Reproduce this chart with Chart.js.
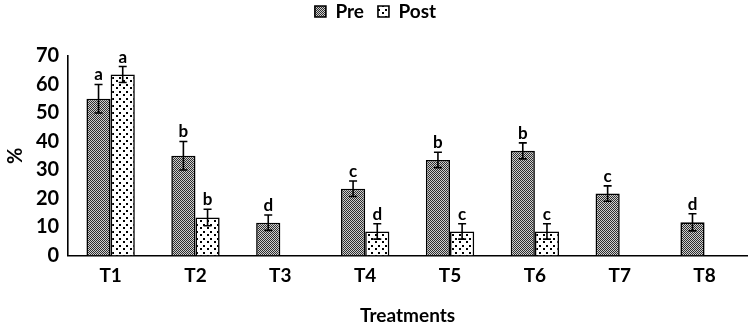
<!DOCTYPE html>
<html>
<head>
<meta charset="utf-8">
<script src="https://cdn.jsdelivr.net/npm/chart.js@4"></script>
<style>
  html, body { margin: 0; padding: 0; background: #fff; }
  .graphBox { width: 751px; height: 327px; }
</style>
</head>
<body>
<div class="graphBox"><canvas id="barChart"></canvas></div>
<script>
const treatments = ['T1', 'T2', 'T3', 'T4', 'T5', 'T6', 'T7', 'T8'];
const preValues = [55, 35, 11.5, 23.4, 33.5, 36.7, 21.7, 11.6];
const postValues = [63.5, 13.3, null, 8.4, 8.4, 8.4, null, null];
const preErrors = [5, 5, 2.7, 2.7, 2.7, 2.8, 2.7, 3];
const postErrors = [2.8, 2.9, null, 2.7, 2.7, 2.7, null, null];
const preLetters = ['a', 'b', 'd', 'c', 'b', 'b', 'c', 'd'];
const postLetters = ['a', 'b', '', 'd', 'c', 'c', '', ''];

const fontFamily = 'Lato, "Open Sans", sans-serif';

// fine grey dither for "Pre"
function prePattern() {
    var c = document.createElement('canvas');
    c.width = 2; c.height = 2;
    var g = c.getContext('2d');
    g.fillStyle = '#cfcfcf';
    g.fillRect(0, 0, 2, 2);
    g.fillStyle = '#2e2e2e';
    g.fillRect(0, 0, 1, 1);
    g.fillRect(1, 1, 1, 1);
    return g.createPattern(c, 'repeat');
}

// white with black dots for "Post"
function postPattern() {
    var c = document.createElement('canvas');
    c.width = 7; c.height = 7;
    var g = c.getContext('2d');
    g.fillStyle = '#ffffff';
    g.fillRect(0, 0, 7, 7);
    g.fillStyle = '#000000';
    g.fillRect(0, 0, 2, 2);
    g.fillRect(4, 3, 2, 2);
    return g.createPattern(c, 'repeat');
}

const errorBars = {
    id: 'errorBars',
    afterInit(chart) {
        // leave room between the legend and the plot, and lift the legend up
        var lg = chart.legend;
        var origFit = lg.fit;
        lg.fit = function () {
            origFit.call(this);
            this.height += 13;
        };
        var origDraw = lg.draw;
        lg.draw = function () {
            this.ctx.save();
            this.ctx.translate(0, -12);
            origDraw.apply(this, arguments);
            this.ctx.restore();
        };
    },
    afterDatasetsDraw(chart) {
        var ctx = chart.ctx;
        var y = chart.scales.y;
        var errs = [preErrors, postErrors];
        var letters = [preLetters, postLetters];
        chart.data.datasets.forEach((ds, di) => {
            var meta = chart.getDatasetMeta(di);
            meta.data.forEach((bar, i) => {
                var v = ds.data[i];
                if (v === null) return;
                var e = errs[di][i];
                var top = y.getPixelForValue(v + e);
                var bottom = y.getPixelForValue(v - e);
                ctx.save();
                ctx.strokeStyle = '#000';
                ctx.lineWidth = 1.6;
                ctx.beginPath();
                ctx.moveTo(bar.x, top);
                ctx.lineTo(bar.x, bottom);
                ctx.moveTo(bar.x - 4, top);
                ctx.lineTo(bar.x + 4, top);
                ctx.moveTo(bar.x - 4, bottom);
                ctx.lineTo(bar.x + 4, bottom);
                ctx.stroke();
                ctx.fillStyle = '#000';
                ctx.font = 'bold 17px ' + fontFamily;
                ctx.textAlign = 'center';
                ctx.textBaseline = 'bottom';
                ctx.fillText(letters[di][i], bar.x, top - 1);
                ctx.restore();
            });
        });
    }
};

var barCtx = document.getElementById('barChart').getContext('2d');
var barChart = new Chart(barCtx, {
    type: 'bar',
    data: {
        labels: treatments,
        datasets: [{
            label: 'Pre',
            data: preValues,
            backgroundColor: prePattern(),
            borderColor: '#000',
            borderWidth: 1.6
        }, {
            label: 'Post',
            data: postValues,
            backgroundColor: postPattern(),
            borderColor: '#000',
            borderWidth: 1.6
        }]
    },
    options: {
        responsive: true,
        maintainAspectRatio: false,
        animation: false,
        layout: { padding: { left: 4, right: 4, top: 0, bottom: 0 } },
        datasets: { bar: { categoryPercentage: 0.57, barPercentage: 1.0 } },
        plugins: {
            legend: {
                position: 'top',
                labels: {
                    boxWidth: 11,
                    boxHeight: 11,
                    color: '#000',
                    font: { family: fontFamily, size: 19, weight: 'bold' },
                    padding: 14
                }
            },
            tooltip: { enabled: false }
        },
        scales: {
            x: {
                grid: { display: false, drawTicks: false },
                border: { color: '#000', width: 1.6 },
                ticks: {
                    color: '#000',
                    padding: 9,
                    font: { family: fontFamily, size: 19, weight: 'bold' }
                },
                title: {
                    display: true,
                    text: 'Treatments',
                    color: '#000',
                    padding: { top: 8, bottom: 0 },
                    font: { family: fontFamily, size: 19, weight: 'bold' }
                }
            },
            y: {
                min: 0,
                max: 70,
                grid: { display: false, drawTicks: true, tickLength: 5, tickColor: '#000' },
                border: { color: '#000', width: 1.6 },
                ticks: {
                    stepSize: 10,
                    color: '#000',
                    padding: 4,
                    font: { family: fontFamily, size: 20, weight: 'bold' }
                },
                title: {
                    display: true,
                    text: '%',
                    color: '#000',
                    padding: { top: 0, bottom: 4 },
                    font: { family: fontFamily, size: 20, weight: 'bold' }
                }
            }
        }
    },
    plugins: [errorBars]
});
</script>
</body>
</html>
